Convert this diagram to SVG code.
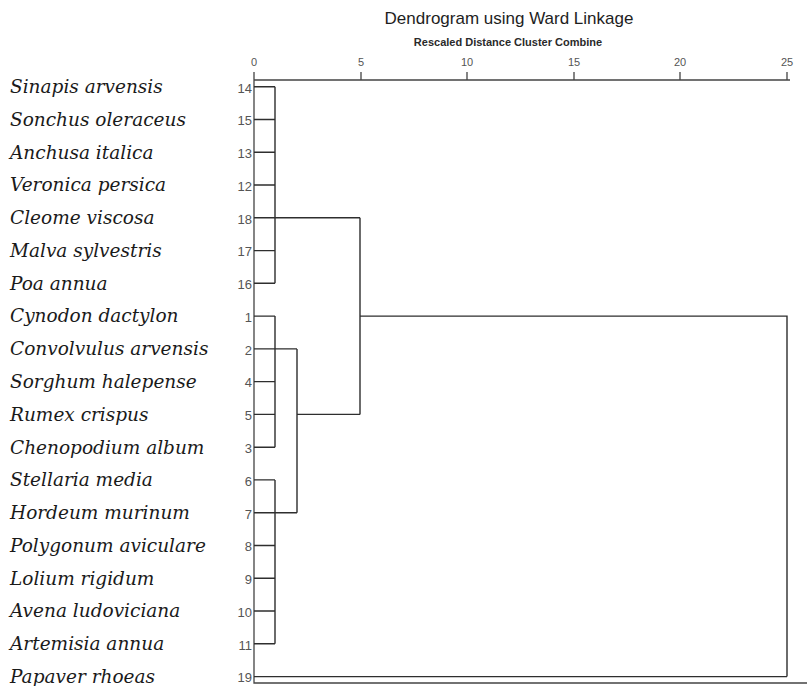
<svg xmlns="http://www.w3.org/2000/svg" width="807" height="686" viewBox="0 0 807 686">
<style>
.sp{font-family:"DejaVu Serif","Liberation Serif",serif;font-style:italic;font-size:18.5px;fill:#1a1a1a}
.num{font-family:"Liberation Sans",Arial,sans-serif;font-size:13px;fill:#555;text-anchor:end}
.ax{font-family:"Liberation Sans",Arial,sans-serif;font-size:11px;fill:#555;text-anchor:middle}
.ln{stroke:#2e2e2e;stroke-width:1.4;fill:none}
.axl{stroke:#444;stroke-width:1.3;fill:none}
</style>
<rect width="807" height="686" fill="#fff"/>
<g id="title">
<text x="509" y="24" font-family="Liberation Sans,Arial,sans-serif" font-size="17" fill="#1e1e1e" text-anchor="middle">Dendrogram using Ward Linkage</text>
<text x="508" y="46" font-family="Liberation Sans,Arial,sans-serif" font-size="11" font-weight="bold" fill="#2a2a2a" text-anchor="middle">Rescaled Distance Cluster Combine</text>
</g>
<g id="axis">
<text class="ax" x="254" y="66">0</text>
<text class="ax" x="361" y="66">5</text>
<text class="ax" x="467" y="66">10</text>
<text class="ax" x="574" y="66">15</text>
<text class="ax" x="680" y="66">20</text>
<text class="ax" x="787" y="66">25</text>
<path class="axl" d="M254,80H790M361,72V80M467,72V80M574,72V80M680,72V80M787,72V80M254,72V683H807"/>
</g>
<g id="leaves">
<g id="n14"><text class="sp" x="10" y="93">Sinapis arvensis</text><text class="num" x="252" y="92.5">14</text></g>
<g id="n15"><text class="sp" x="10" y="125.8">Sonchus oleraceus</text><text class="num" x="252" y="125.3">15</text></g>
<g id="n13"><text class="sp" x="10" y="158.5">Anchusa italica</text><text class="num" x="252" y="158">13</text></g>
<g id="n12"><text class="sp" x="10" y="191.3">Veronica persica</text><text class="num" x="252" y="190.8">12</text></g>
<g id="n18"><text class="sp" x="10" y="224.1">Cleome viscosa</text><text class="num" x="252" y="223.6">18</text></g>
<g id="n17"><text class="sp" x="10" y="256.9">Malva sylvestris</text><text class="num" x="252" y="256.4">17</text></g>
<g id="n16"><text class="sp" x="10" y="289.6">Poa annua</text><text class="num" x="252" y="289.1">16</text></g>
<g id="n1"><text class="sp" x="10" y="322.4">Cynodon dactylon</text><text class="num" x="252" y="321.9">1</text></g>
<g id="n2"><text class="sp" x="10" y="355.2">Convolvulus arvensis</text><text class="num" x="252" y="354.7">2</text></g>
<g id="n4"><text class="sp" x="10" y="387.9">Sorghum halepense</text><text class="num" x="252" y="387.4">4</text></g>
<g id="n5"><text class="sp" x="10" y="420.7">Rumex crispus</text><text class="num" x="252" y="420.2">5</text></g>
<g id="n3"><text class="sp" x="10" y="453.5">Chenopodium album</text><text class="num" x="252" y="453">3</text></g>
<g id="n6"><text class="sp" x="10" y="486.2">Stellaria media</text><text class="num" x="252" y="485.7">6</text></g>
<g id="n7"><text class="sp" x="10" y="519">Hordeum murinum</text><text class="num" x="252" y="518.5">7</text></g>
<g id="n8"><text class="sp" x="10" y="551.8">Polygonum aviculare</text><text class="num" x="252" y="551.3">8</text></g>
<g id="n9"><text class="sp" x="10" y="584.6">Lolium rigidum</text><text class="num" x="252" y="584.1">9</text></g>
<g id="n10"><text class="sp" x="10" y="617.3">Avena ludoviciana</text><text class="num" x="252" y="616.8">10</text></g>
<g id="n11"><text class="sp" x="10" y="650.1">Artemisia annua</text><text class="num" x="252" y="649.6">11</text></g>
<g id="n19"><text class="sp" x="10" y="682.9">Papaver rhoeas</text><text class="num" x="252" y="682.4">19</text></g>
</g>
<g id="connectors">
<path class="ln" d="M254,86.7H275M254,119.5H275M254,152.2H275M254,185H275M254,217.8H275M254,250.6H275M254,283.3H275M275,86.7V283.3"/>
<path class="ln" d="M254,316.1H275M254,348.9H275M254,381.6H275M254,414.4H275M254,447.2H275M275,316.1V447.2"/>
<path class="ln" d="M254,479.9H275M254,512.7H275M254,545.5H275M254,578.3H275M254,611H275M254,643.8H275M275,479.9V643.8"/>
<path class="ln" d="M275,348.9H297M275,512.7H297M297,348.9V512.7"/>
<path class="ln" d="M275,217.8H360M297,414.4H360M360,217.8V414.4"/>
<path class="ln" d="M360,316.1H787V676.6"/>
<path class="ln" d="M254,676.6H787" stroke-width="2"/>
</g>
</svg>
